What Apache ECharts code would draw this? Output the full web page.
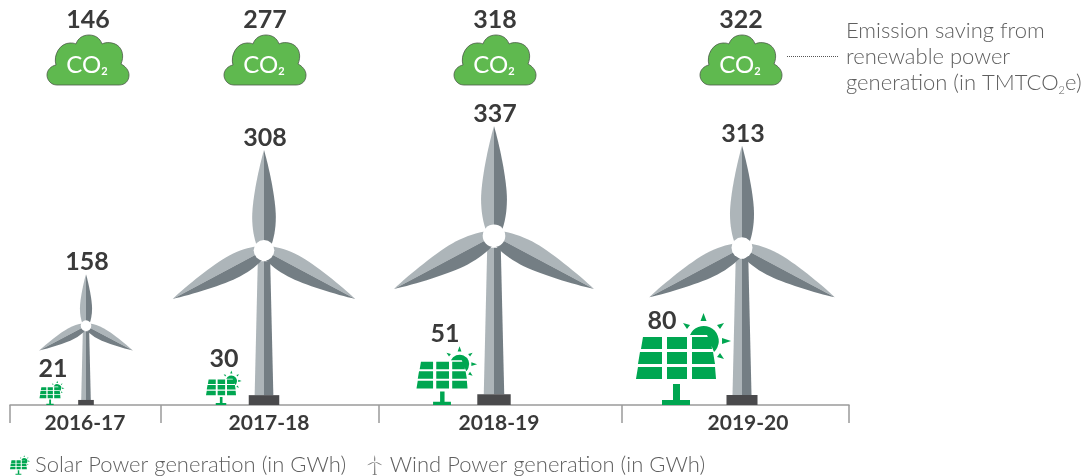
<!DOCTYPE html>
<html lang="en">
<head>
    <meta charset="UTF-8">
    <title>Renewable power generation</title>
    <script src="https://cdn.jsdelivr.net/npm/echarts@6/dist/echarts.min.js"></script>
    <style>
      html, body { margin: 0; padding: 0; background: #fff; }
    </style>
</head>
<body>
    <div id="main" style="width: 1085px; height: 476px"></div>
    <script type="text/javascript">
      // chart values
      const years = ["2016-17", "2017-18", "2018-19", "2019-20"];
      const solarGwh = [21, 30, 51, 80];
      const windGwh = [158, 308, 337, 313];
      const co2Saved = [146, 277, 318, 322];

      // the columns are not evenly spaced in the picture
      const tickX = [10, 161, 379, 622, 849];
      const labelX = [85, 269, 499, 748];
      const windX = [86, 264, 494, 742];
      const solarX = [50, 221, 442, 676];
      const cloudX = [88, 265, 495, 741];

      const FONT = "Lato, 'Open Sans', sans-serif";
      const GREEN = "#00a651";
      const LIGHT = "#adb5b9";
      const DARK = "#747e84";

      // glyphs are drawn at the size of the tallest reference, origin at the ground
      const TURBINE_H = 259;
      const SOLAR_H = 92;
      const bladeLeft = "M0 -102C-5 -85 -12 -52 -12 -34C-12 -22 -10 -12 -7 -4L0 0Z";
      const bladeRight = "M0 -102C5 -85 12 -52 12 -34C12 -22 10 -12 7 -4L0 0Z";
      const sideBladeLeft = "M0 -105C-5 -87 -12 -52 -12 -34C-12 -22 -10 -12 -7 -4L0 0Z";
      const sideBladeRight = "M0 -105C5 -87 12 -52 12 -34C12 -22 10 -12 7 -4L0 0Z";
      const solarPath =
        "M-33 -68L-14 -68L-14 -56L-35 -56ZM-9 -68L11 -68L11 -56L-9 -56ZM16 -68L34 -68L36 -56L16 -56Z" +
        "M-36 -53L-14 -53L-14 -41L-38 -41ZM-9 -53L11 -53L11 -41L-9 -41ZM16 -53L37 -53L39 -41L16 -41Z" +
        "M-38 -38L-14 -38L-14 -26L-40 -26ZM-9 -38L11 -38L11 -26L-9 -26ZM16 -38L39 -38L40 -26L16 -26Z" +
        "M-3 -21L4 -21L4 -5L14 -5L14 0L-14 0L-14 -5L-3 -5Z" +
        "M14 -70A15 15 0 1 1 38 -53L31 -70Z" +
        "M27.5 -92L30.5 -84L24.5 -84ZM7 -82L14 -80L11 -76ZM48 -82L41 -80L44 -76Z" +
        "M46 -67L55 -64L46 -61ZM48 -46L41 -48L44 -52Z";
      const cloudPath =
        "M-31 0C-37 0 -41 -5 -41 -10C-41 -15 -37 -19 -32 -20C-35 -30 -28 -42 -18 -42C-16 -42 -14 -42 -12 -41" +
        "C-10 -47 -5 -50 1 -50C7 -50 12 -47 14 -41C18 -43 24 -43 29 -40C35 -36 36 -28 33 -21" +
        "C37 -19 41 -15 41 -10C41 -4 37 0 31 0Z";
      const windIcon =
        "path://M-0.6 -9L0.6 -9L1 8L3 8L3 9L-3 9L-3 8L-1 8ZM0 -20C1 -16 1 -13 0.6 -11L-0.6 -11C-1 -13 -1 -16 0 -20Z" +
        "M1 -10C4 -10 8 -8 11 -5C7 -6 4 -8 1 -9ZM-1 -10C-4 -10 -8 -8 -11 -5C-7 -6 -4 -8 -1 -9Z";

      function bigLabel(x, y, value) {
        return {
          type: "text",
          x: x,
          y: y,
          style: {
            text: String(value),
            font: "700 25px " + FONT,
            fill: "#3a3a3a",
            align: "center",
            verticalAlign: "middle",
          },
        };
      }

      function blade(rotation, mirror, left, right) {
        return {
          type: "group",
          y: -157,
          rotation: rotation,
          scaleX: mirror ? -1 : 1,
          children: [
            { type: "path", shape: { pathData: left }, style: { fill: LIGHT } },
            { type: "path", shape: { pathData: right }, style: { fill: DARK } },
          ],
        };
      }

      function renderWind(params, api) {
        const base = api.coord([api.value(0), 0]);
        const tip = api.coord([api.value(0), api.value(1)]);
        const s = (base[1] - tip[1]) / TURBINE_H;
        const turn = (118 * Math.PI) / 180;
        return {
          type: "group",
          children: [
            {
              type: "group",
              x: base[0],
              y: base[1],
              scaleX: s,
              scaleY: s,
              children: [
                { type: "polygon", shape: { points: [[-6.3, -146], [0, -146], [0, -10], [-9.5, -10]] }, style: { fill: LIGHT } },
                { type: "polygon", shape: { points: [[0, -146], [6.3, -146], [9.5, -10], [0, -10]] }, style: { fill: DARK } },
                { type: "rect", shape: { x: -15.5, y: -10, width: 31, height: 10 }, style: { fill: "#4a4a4c" } },
                blade(0, false, bladeLeft, bladeRight),
                blade(-turn, false, sideBladeLeft, sideBladeRight),
                blade(turn, true, sideBladeLeft, sideBladeRight),
                { type: "circle", shape: { cx: 0, cy: -157, r: 10.5 }, style: { fill: "#fff" } },
              ],
            },
            bigLabel(base[0] + 1, tip[1] - 12, api.value(1)),
          ],
        };
      }

      function renderSolar(params, api) {
        const base = api.coord([api.value(0), 0]);
        const top = api.coord([api.value(0), api.value(1)]);
        const s = (base[1] - top[1]) / SOLAR_H;
        return {
          type: "group",
          children: [
            {
              type: "path",
              x: base[0],
              y: base[1],
              scaleX: s,
              scaleY: s,
              shape: { pathData: solarPath },
              style: { fill: GREEN },
            },
            // 80 sits left of the sun rays, the small ones sit above the icon
            bigLabel(
              base[0] + (api.value(1) >= 80 ? -14 : 3),
              api.value(1) >= 80 ? top[1] + 8 : top[1] - 12,
              api.value(1)
            ),
          ],
        };
      }

      function renderCloud(params, api) {
        const x = api.coord([api.value(0), 0])[0];
        return {
          type: "group",
          x: x,
          y: params.coordSys.y,
          children: [
            {
              type: "path",
              y: 85,
              shape: { pathData: cloudPath },
              style: { fill: "#5fb94f", stroke: "#4d5a4a", lineWidth: 0.8 },
            },
            {
              type: "text",
              y: 65,
              x: -1,
              style: {
                text: "CO{s|2}",
                font: "400 24px " + FONT,
                fill: "#fff",
                align: "center",
                verticalAlign: "middle",
                rich: { s: { font: "700 11px " + FONT, fill: "#fff", verticalAlign: "bottom", padding: [10, 0, 0, 0] } },
              },
            },
            bigLabel(0, 20, api.value(1)),
          ],
        };
      }

      const myChart = echarts.init(document.getElementById("main"));

      const options = {
        animation: false,
        grid: { left: 10, width: 839, top: 0, height: 405 },
        title: {
          left: 846,
          top: 18,
          padding: 0,
          text: "Emission saving from\nrenewable power\ngeneration (in TMTCO{sub|2}e)",
          textStyle: {
            fontFamily: FONT,
            fontWeight: 300,
            fontSize: 22,
            lineHeight: 26,
            color: "#5f5f5f",
            rich: {
              sub: { fontFamily: FONT, fontSize: 11, color: "#5f5f5f", verticalAlign: "bottom", padding: [8, 0, 0, 0] },
            },
          },
        },
        legend: {
          left: 10,
          top: 454,
          itemGap: 21,
          itemWidth: 20,
          itemHeight: 20,
          padding: 0,
          selectedMode: false,
          data: [
            { name: "Solar Power generation (in GWh)", icon: "path://" + solarPath },
            { name: "Wind Power generation (in GWh)", icon: windIcon },
          ],
          textStyle: { fontFamily: FONT, fontWeight: 300, fontSize: 22, color: "#5f5f5f" },
        },
        xAxis: {
          type: "value",
          min: 10,
          max: 849,
          splitLine: { show: false },
          axisLine: { show: true, lineStyle: { color: "#9a9a9a", width: 1.5 } },
          axisTick: { show: true, customValues: tickX, length: 18, lineStyle: { color: "#9a9a9a", width: 1.5 } },
          axisLabel: {
            show: true,
            customValues: labelX,
            margin: 8,
            fontFamily: FONT,
            fontWeight: 700,
            fontSize: 21,
            color: "#3a3a3a",
            formatter: (v) => years[labelX.indexOf(v)],
          },
        },
        yAxis: [
          { type: "value", show: false, min: 0, max: 489, splitLine: { show: false } },
          { type: "value", show: false, min: 0, max: 352, splitLine: { show: false } },
        ],
        graphic: [
          {
            type: "line",
            shape: { x1: 787, y1: 56.5, x2: 838, y2: 56.5 },
            style: { stroke: "#555", lineWidth: 1, lineDash: [1, 1] },
          },
        ],
        series: [
          {
            name: "Emission saving",
            type: "custom",
            clip: false,
            yAxisIndex: 0,
            renderItem: renderCloud,
            data: co2Saved.map((v, i) => [cloudX[i], v]),
          },
          {
            name: "Wind Power generation (in GWh)",
            type: "custom",
            clip: false,
            yAxisIndex: 0,
            itemStyle: { color: "#7d7d7d" },
            renderItem: renderWind,
            data: windGwh.map((v, i) => [windX[i], v]),
          },
          {
            name: "Solar Power generation (in GWh)",
            type: "custom",
            clip: false,
            yAxisIndex: 1,
            itemStyle: { color: GREEN },
            renderItem: renderSolar,
            data: solarGwh.map((v, i) => [solarX[i], v]),
          },
        ],
      };

      myChart.setOption(options);
    </script>
</body>
</html>
